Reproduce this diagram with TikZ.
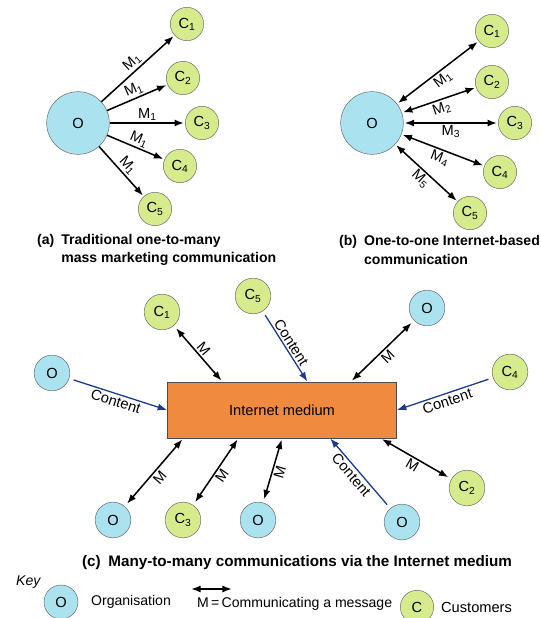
\documentclass[tikz,border=0pt]{standalone}
\usepackage{fontspec}
\setmainfont{Liberation Sans}
\usetikzlibrary{shapes,positioning,arrows,arrows.meta,calc}
\definecolor{orgblue}{RGB}{170,226,240}
\definecolor{custgreen}{RGB}{214,235,140}
\definecolor{netorange}{RGB}{240,138,62}
\definecolor{contentblue}{RGB}{28,58,140}

\begin{document}
\begin{tikzpicture}[x=0.03cm, y=0.03cm,
	every node/.style={on grid},
	org/.style={draw=black!60, fill=orgblue, circle, inner sep=0pt, minimum size=1.07cm, font=\fontsize{12.5}{14}\selectfont},
	bigorg/.style={org, minimum size=1.88cm},
	cust/.style={draw=black!60, fill=custgreen, circle, inner sep=0pt, minimum size=1cm, font=\fontsize{12.5}{14}\selectfont},
	custc/.style={cust, minimum size=1.07cm},
	msg/.style={->, line width=1.3pt, shorten >=1pt},
	twoway/.style={<->, line width=1.3pt, shorten <=1pt, shorten >=1pt},
	contentarrow/.style={->, line width=1.1pt, draw=contentblue, shorten <=4pt},
	lbl/.style={font=\fontsize{12.5}{14}\selectfont, sloped, inner sep=1.5pt},
	keytext/.style={anchor=west, font=\fontsize{12}{14}\selectfont},
	captext/.style={font=\bfseries\fontsize{12}{16}\selectfont, align=left, anchor=west},
	>={Latex[length=8pt,width=6pt]}]
	\useasboundingbox (0,0) rectangle (541,-618);

	\node[bigorg] (oa) at (78,-123) {O};
	\node[cust, above right=2.97cm and 3.27cm of oa] (ca1) {C\textsubscript{1}};
	\node[cust, above right=1.35cm and 3.15cm of oa] (ca2) {C\textsubscript{2}};
	\node[cust, right=3.72cm of oa] (ca3) {C\textsubscript{3}};
	\node[cust, below right=1.29cm and 3.06cm of oa] (ca4) {C\textsubscript{4}};
	\node[cust, below right=2.58cm and 2.31cm of oa] (ca5) {C\textsubscript{5}};

	\draw[msg] (oa) -- node[lbl, above] {M\textsubscript{1}} (ca1);
	\draw[msg] (oa) -- node[lbl, above] {M\textsubscript{1}} (ca2);
	\draw[msg] (oa) -- node[lbl, above] {M\textsubscript{1}} (ca3);
	\draw[msg] (oa) -- node[lbl, above] {M\textsubscript{1}} (ca4);
	\draw[msg] (oa) -- node[lbl, above] {M\textsubscript{1}} (ca5);

	\node[captext] (capa) at (33,-250) {(a)\enspace Traditional one-to-many\\\phantom{(a)\enspace}mass marketing communication};

	\node[bigorg] (ob) at (372,-123) {O};
	\node[cust, above right=2.76cm and 3.6cm of ob] (cb1) {C\textsubscript{1}};
	\node[cust, above right=1.23cm and 3.6cm of ob] (cb2) {C\textsubscript{2}};
	\node[cust, right=4.29cm of ob] (cb3) {C\textsubscript{3}};
	\node[cust, below right=1.47cm and 3.84cm of ob] (cb4) {C\textsubscript{4}};
	\node[cust, below right=2.7cm and 2.94cm of ob] (cb5) {C\textsubscript{5}};

	\draw[twoway] (ob) -- node[lbl, below] {M\textsubscript{1}} (cb1);
	\draw[twoway] (ob) -- node[lbl, below] {M\textsubscript{2}} (cb2);
	\draw[twoway] (ob) -- node[lbl, below] {M\textsubscript{3}} (cb3);
	\draw[twoway] (ob) -- node[lbl, below] {M\textsubscript{4}} (cb4);
	\draw[twoway] (ob) -- node[lbl, below] {M\textsubscript{5}} (cb5);

	\node[captext] (capb) at (335,-251.5) {(b)\enspace One-to-one Internet-based\\\phantom{(b)\enspace}communication};

	\node[draw=black!70, line width=0.8pt, fill=netorange, minimum width=6.87cm, minimum height=1.68cm, inner sep=0pt, font=\fontsize{12.5}{14}\selectfont] (net) at (282,-410) {Internet medium};
	\path (net.north west) -- (net.north east) coordinate[pos=.24] (n1) coordinate[pos=.61] (n2) coordinate[pos=.80] (n3);
	\path (net.south west) -- (net.south east) coordinate[pos=.07] (s1) coordinate[pos=.31] (s2) coordinate[pos=.5] (s3) coordinate[pos=.71] (s4) coordinate[pos=.93] (s5);

	\node[org, above left=1.11cm and 6.9cm of net] (oc1) {O};
	\node[custc, above left=2.94cm and 3.6cm of net] (cc1) {C\textsubscript{1}};
	\node[custc, above left=3.42cm and 0.87cm of net] (cc5) {C\textsubscript{5}};
	\node[org, above right=3.06cm and 4.35cm of net] (oc2) {O};
	\node[custc, above right=1.14cm and 6.84cm of net] (cc4) {C\textsubscript{4}};
	\node[custc, below right=2.34cm and 5.55cm of net] (cc2) {C\textsubscript{2}};
	\node[org, below right=3.36cm and 3.6cm of net] (oc3) {O};
	\node[org, below left=3.3cm and 0.72cm of net] (oc4) {O};
	\node[custc, below left=3.3cm and 2.97cm of net] (cc3) {C\textsubscript{3}};
	\node[org, below left=3.3cm and 5.07cm of net] (oc5) {O};

	\draw[contentarrow] (oc1) -- node[lbl, below] {Content} (net.west);
	\draw[twoway, shorten <=3pt] (cc1) -- node[lbl, above] {M} (n1);
	\draw[contentarrow] (cc5) -- node[lbl, above] {Content} (n2);
	\draw[twoway, shorten >=3pt] (n3) -- node[lbl, below] {M} (oc2);
	\draw[contentarrow] (cc4) -- node[lbl, below] {Content} (net.east);
	\draw[twoway, shorten >=3pt] (s5) -- node[lbl, below] {M} (cc2);
	\draw[contentarrow, <-, shorten <=0pt, shorten >=4pt] (s4) -- node[lbl, below, pos=.45] {Content} (oc3);
	\draw[twoway, shorten >=3pt] (s3) -- node[lbl, below] {M} (oc4);
	\draw[twoway, shorten >=3pt] (s2) -- node[lbl, below] {M} (cc3);
	\draw[twoway, shorten >=3pt] (s1) -- node[lbl, below] {M} (oc5);

	\node[captext, font=\bfseries\fontsize{13}{16}\selectfont] (capc) at (78,-563) {(c)\enspace Many-to-many communications via the Internet medium};

	\node[anchor=west, font=\itshape\fontsize{12}{14}\selectfont] (key) at (12,-582) {Key};
	\node[org, minimum size=1.02cm] (keyo) at (61,-602) {O};
	\node[keytext] (keyorg) at (87,-602) {Organisation};
	\coordinate (keyl) at (190,-589);
	\coordinate (keyr) at (233,-589);
	\draw[twoway] (keyl) -- (keyr);
	\node[keytext] (keymsg) at (193,-604) {M\,=\,Communicating a message};
	\node[cust] (keyc) at (417,-607) {C};
	\node[keytext, font=\fontsize{12.5}{14}\selectfont] (keycust) at (437,-607) {Customers};
\end{tikzpicture}
\end{document}
